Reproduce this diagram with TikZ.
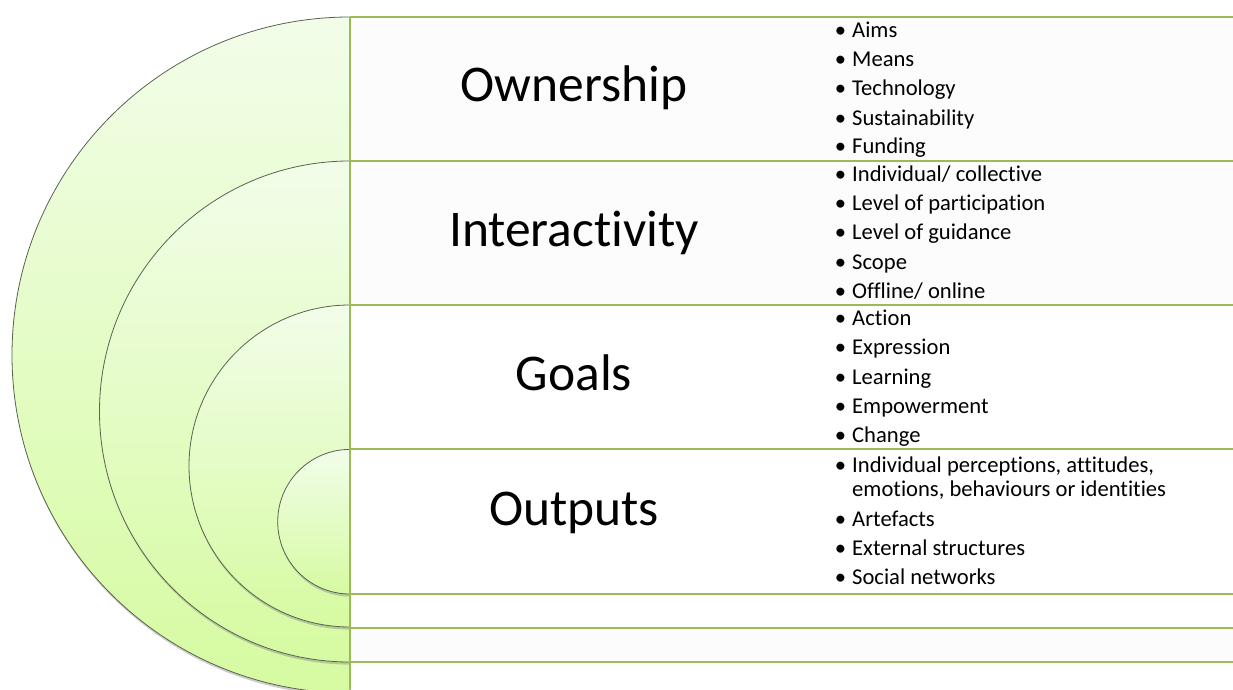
\documentclass[tikz,border=0pt]{standalone}
\usepackage{fontspec}
\setmainfont{Carlito}[Ligatures=NoCommon]
\usetikzlibrary{shadows}
\definecolor{lineg}{HTML}{9BBB59}
\definecolor{gtop}{HTML}{F2FDE9}
\definecolor{gbot}{HTML}{D6FBA1}
\definecolor{edgec}{HTML}{596350}
\definecolor{rowg}{HTML}{FCFCFC}
\begin{document}
\begin{tikzpicture}[x=1pt,y=1pt,
  ring/.style={top color=gtop,bottom color=gbot,draw=edgec,line width=0.8pt,
    drop shadow={shadow xshift=0.6pt,shadow yshift=-2.6pt,opacity=0.4}},
  gline/.style={draw=lineg,line width=1.8pt},
  title/.style={font=\fontsize{51.5}{60}\selectfont,anchor=base,inner sep=0pt},
  item/.style={font=\fontsize{22.6}{23.3}\selectfont,anchor=base west,inner sep=0pt,align=left}]
\useasboundingbox (0,0) rectangle (1233,689);
\clip (0,0) rectangle (1233,689);
% faint row backgrounds
\fill[rowg] (350,384) rectangle (1233,672);
\fill[rowg] (350,27) rectangle (1233,61);
% nested half discs
\path[ring] (350,672) arc[start angle=90,end angle=270,radius=338] -- cycle;
\path[ring] (350,528) arc[start angle=90,end angle=270,radius=250.5] -- cycle;
\path[ring] (350,384) arc[start angle=90,end angle=270,radius=161] -- cycle;
\path[ring] (350,239.6) arc[start angle=90,end angle=270,radius=72.3] -- cycle;
% grid lines
\foreach \y [count=\i] in {672,528,384,240,95,61,27}{
  \coordinate (l\i) at (350,\y);
  \coordinate (r\i) at (1233,\y);
  \draw[gline] (l\i) -- (r\i);
}
\coordinate (vb) at (350,0);
\draw[gline] (l1) -- (vb);
% titles
\node[title] (own) at (574,587.3) {Ownership};
\node[title] (int) at (574,442.3) {Interactivity};
\node[title] (goa) at (574,299) {Goals};
\node[title] (out) at (574,164) {Outputs};
% items
\newcommand\bul{\llap{\textbullet\hspace{6pt}}}
\node[item] (own1) at (852,651.7) {\bul Aims};
\node[item] (own2) at (852,622.3) {\bul Means};
\node[item] (own3) at (852,593) {\bul Technology};
\node[item] (own4) at (852,563.7) {\bul Sustainability};
\node[item] (own5) at (852,535) {\bul Funding};
\node[item] (int1) at (852,507.3) {\bul Individual/ collective};
\node[item] (int2) at (852,478) {\bul Level of participation};
\node[item] (int3) at (852,449) {\bul Level of guidance};
\node[item] (int4) at (852,419.7) {\bul Scope};
\node[item] (int5) at (852,390.7) {\bul Offline/ online};
\node[item] (goa1) at (852,363.3) {\bul Action};
\node[item] (goa2) at (852,334.3) {\bul Expression};
\node[item] (goa3) at (852,305) {\bul Learning};
\node[item] (goa4) at (852,275.7) {\bul Empowerment};
\node[item] (goa5) at (852,246.3) {\bul Change};
\node[item] (out1) at (852,193) {\bul Individual perceptions, attitudes,\\emotions, behaviours or identities};
\node[item] (out2) at (852,163) {\bul Artefacts};
\node[item] (out3) at (852,134) {\bul External structures};
\node[item] (out4) at (852,104.7) {\bul Social networks};
\end{tikzpicture}
\end{document}
